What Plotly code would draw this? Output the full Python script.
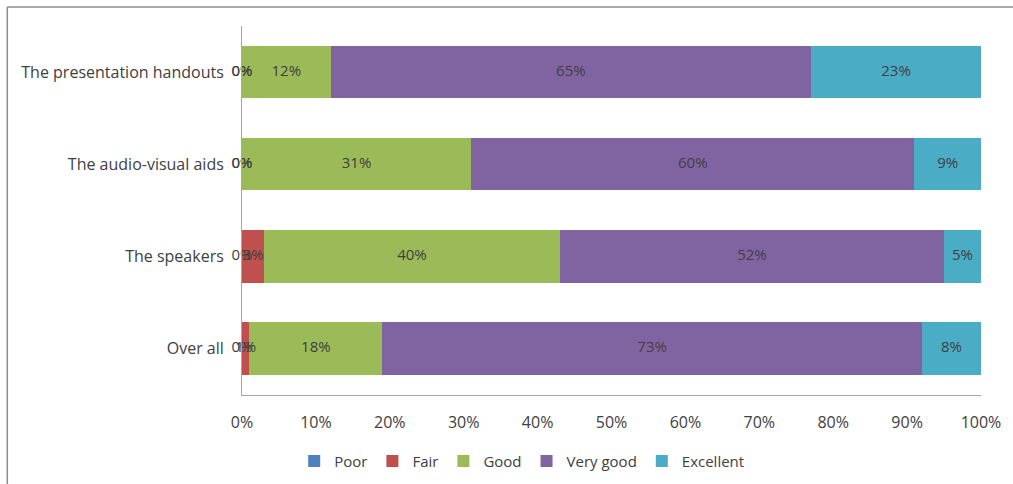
import plotly.graph_objects as go

# Survey ratings per item, in percent (bottom to top on the chart)
categories = ["Over all", "The speakers", "The audio-visual aids", "The presentation handouts"]
poor = [0, 0, 0, 0]
fair = [1, 3, 0, 0]
good = [18, 40, 31, 12]
very_good = [73, 52, 60, 65]
excellent = [8, 5, 9, 23]
tick_values = [0, 10, 20, 30, 40, 50, 60, 70, 80, 90, 100]
tick_labels = ["0%", "10%", "20%", "30%", "40%", "50%", "60%", "70%", "80%", "90%", "100%"]

series = [
    ("Poor", poor, "#4F81BD"),
    ("Fair", fair, "#C0504D"),
    ("Good", good, "#9BBB59"),
    ("Very good", very_good, "#8064A2"),
    ("Excellent", excellent, "#4BACC6"),
]

FONT = "Open Sans"
TXT = "#404040"

fig = go.Figure()
for name, vals, color in series:
    fig.add_trace(go.Bar(
        name=name, y=categories, x=vals, orientation="h",
        marker=dict(color=color, line=dict(width=0)),
        hoverinfo="x+name",
    ))

# Centred data labels, placed at the middle of each stacked segment
label_x, label_y, label_t = [], [], []
for i, cat in enumerate(categories):
    start = 0
    for name, vals, color in series:
        v = vals[i]
        label_x.append(start + v / 2)
        label_y.append(cat)
        label_t.append(f"{v}%")
        start += v
fig.add_trace(go.Scatter(
    x=label_x, y=label_y, text=label_t, mode="text",
    textfont=dict(family=FONT, size=15, color=TXT),
    showlegend=False, hoverinfo="skip", cliponaxis=False,
))

fig.update_layout(
    width=1013, height=484,
    barmode="stack", bargap=0.43,
    plot_bgcolor="white", paper_bgcolor="white",
    margin=dict(l=242, r=31, t=26, b=88),
    font=dict(family=FONT, size=15, color=TXT),
    legend=dict(
        orientation="h", xref="container", yref="container",
        x=0.515, xanchor="center", y=0.047, yanchor="middle",
        font=dict(family=FONT, size=15, color=TXT),
        traceorder="normal", itemwidth=30,
    ),
    xaxis=dict(
        range=[0, 100], tickmode="array",
        tickvals=tick_values, ticktext=tick_labels,
        showgrid=False, zeroline=False, showline=True,
        linecolor="#A6A6A6", linewidth=1, ticks="",
        tickfont=dict(family=FONT, size=16, color=TXT),
        ticklabelstandoff=13, fixedrange=True,
    ),
    yaxis=dict(
        showgrid=False, zeroline=False, showline=True,
        linecolor="#A6A6A6", linewidth=1, ticks="",
        tickfont=dict(family=FONT, size=16, color=TXT),
        ticklabelstandoff=14, fixedrange=True,
    ),
    shapes=[
        dict(type="line", xref="paper", yref="paper",
             x0=-0.3176, x1=1.05, y0=1.0514, y1=1.0514,
             line=dict(color="#8C8C8C", width=1.5)),
        dict(type="line", xref="paper", yref="paper",
             x0=-0.3176, x1=-0.3176, y0=1.0514, y1=-0.25,
             line=dict(color="#8C8C8C", width=1.5)),
    ],
)

fig.write_html("out.html")
